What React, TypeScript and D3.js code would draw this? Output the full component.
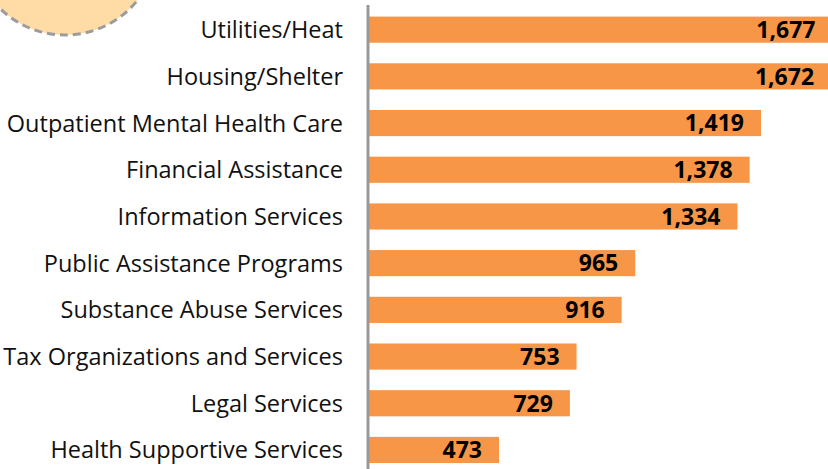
import React from "react";
import * as d3 from "d3";

const categories = [
  "Utilities/Heat",
  "Housing/Shelter",
  "Outpatient Mental Health Care",
  "Financial Assistance",
  "Information Services",
  "Public Assistance Programs",
  "Substance Abuse Services",
  "Tax Organizations and Services",
  "Legal Services",
  "Health Supportive Services",
];
const values = [1677, 1672, 1419, 1378, 1334, 965, 916, 753, 729, 473];

const W = 828;
const H = 469;

export default function App() {
  const x = d3.scaleLinear().domain([0, 473]).range([368, 499]);
  const y = d3
    .scaleBand<string>()
    .domain(categories)
    .range([6.3, 473.3])
    .paddingInner(0.44)
    .paddingOuter(0.22);
  const fmt = d3.format(",");
  const font = "'Open Sans', 'Noto Sans', sans-serif";
  return (
    <svg
      width={W}
      height={H}
      style={{ position: "absolute", left: 0, top: 0, display: "block" }}
    >
      <rect x={0} y={0} width={W} height={H} fill="#fff" />
      <circle
        cx={65}
        cy={-58}
        r={93}
        fill="#FFDBA6"
        stroke="#9C9C9C"
        strokeWidth={3}
        strokeDasharray="8 5"
      />
      {categories.map((c, i) => {
        const yy = y(c)!;
        const bw = y.bandwidth();
        const xe = x(values[i]);
        return (
          <g key={c}>
            <rect x={368} y={yy} width={xe - 368} height={bw} fill="#F79646" />
            <text
              x={343}
              y={yy + bw / 2}
              dy="0.36em"
              textAnchor="end"
              fontFamily={font}
              fontSize={23.5}
              fill="#111"
            >
              {c}
            </text>
            <text
              x={xe - 17}
              y={yy + bw / 2}
              dy="0.36em"
              textAnchor="end"
              fontFamily={font}
              fontWeight="bold"
              fontSize={23}
              fill="#000"
            >
              {fmt(values[i])}
            </text>
          </g>
        );
      })}
      <line x1={368} x2={368} y1={5} y2={H} stroke="#999" strokeWidth={3} />
    </svg>
  );
}
